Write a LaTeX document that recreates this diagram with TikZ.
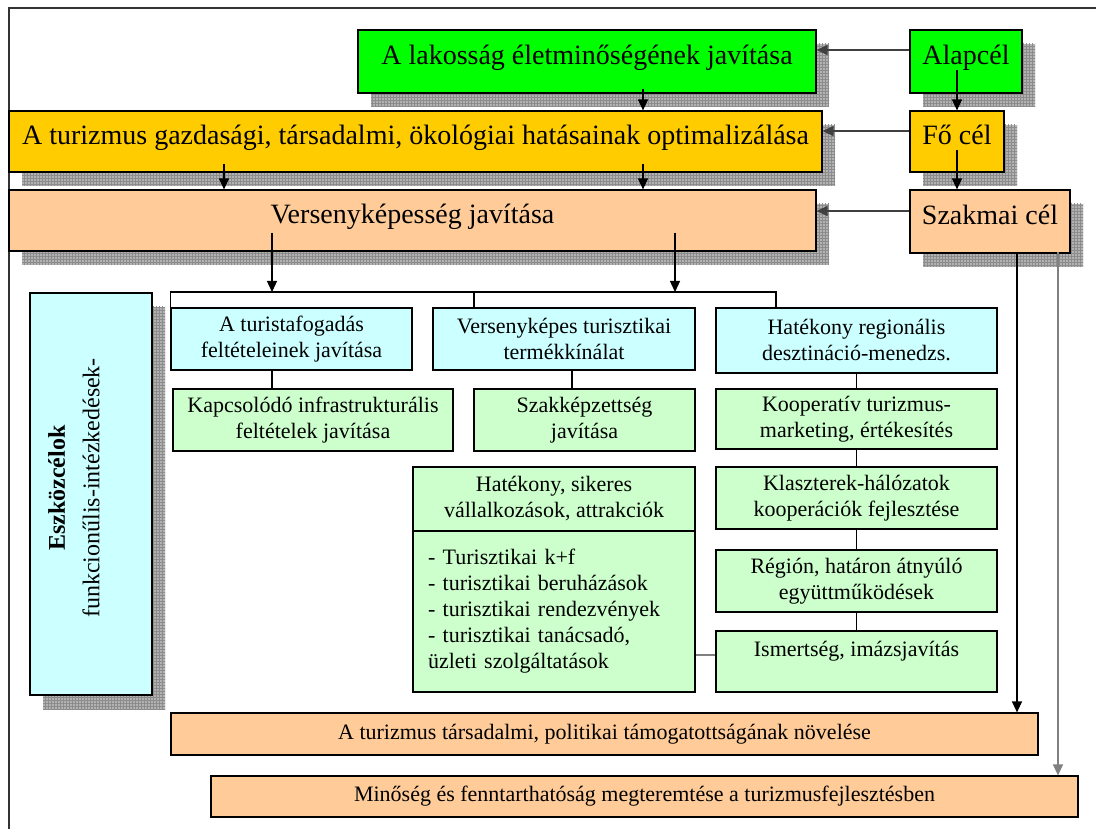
\documentclass[tikz,border=0pt]{standalone}
\usepackage{fontspec}
\setmainfont{Liberation Serif}
\usetikzlibrary{arrows.meta,shadows,patterns}

\definecolor{zold}{HTML}{00FF00}
\definecolor{sarga}{HTML}{FFCC00}
\definecolor{barack}{HTML}{FFCC99}
\definecolor{egkek}{HTML}{CCFFFF}
\definecolor{halvzold}{HTML}{CCFFCC}

\tikzset{
  doboz/.style={draw=black, line width=1.2pt, inner sep=2pt, align=center},
  nagy/.style={doboz, font=\fontsize{28pt}{32pt}\selectfont, text height=21pt, text depth=14pt},
  kicsi/.style={doboz, font=\fontsize{22pt}{26pt}\selectfont},
  arnyek/.style={general shadow={shadow xshift=13pt, shadow yshift=-14pt, fill=black!30},
                 general shadow={shadow xshift=13pt, shadow yshift=-14pt, pattern=grid, pattern color=black!45}},
  nyil/.style={line width=1.3pt, -{Triangle[length=11pt,width=10pt]}},
  vonal/.style={line width=1.2pt},
}

\begin{document}
\begin{tikzpicture}[x=1pt,y=-1pt]
\useasboundingbox (0,0) rectangle (1096,829);

% keret
\draw[line width=1.3pt, black!80] (9,829) -- (9,8) -- (1096,8);

% celok
\node[nagy, arnyek, fill=zold, minimum width=458pt, minimum height=63pt] (lakossag) at (587,61.5) {A lakosság életminőségének javítása};
\node[nagy, arnyek, fill=zold, minimum width=112pt, minimum height=63pt] (alapcel) at (966,61.5) {Alapcél};
\node[nagy, arnyek, fill=sarga, minimum width=813pt, minimum height=61pt] (turizmus) at (415.5,141.5) {A turizmus gazdasági, társadalmi, ökológiai hatásainak optimalizálása};
\node[nagy, arnyek, fill=sarga, minimum width=94pt, minimum height=61pt] (focel) at (957,141.5) {Fő cél};
\node[nagy, arnyek, fill=barack, minimum width=807pt, minimum height=61pt] (verseny) at (412.5,220.5) {Versenyképesség javítása};
\node[nagy, arnyek, fill=barack, minimum width=160pt, minimum height=63pt] (szakmai) at (990,221.5) {Szakmai cél};

% eszkozcelok
\node[doboz, arnyek, fill=egkek, minimum width=122pt, minimum height=402pt] (eszkoz) at (91,494) {};
\node[rotate=90, align=center, font=\fontsize{24pt}{34.5pt}\selectfont] (eszkozszoveg) at ([yshift=6pt]eszkoz.center) {\textbf{Eszközcélok}\\funkcionűlis-intézkedések-\\\mbox{}};

\node[kicsi, fill=egkek, minimum width=241pt, minimum height=62pt] (turista) at (291.5,339) {A turistafogadás\\feltételeinek javítása};
\node[kicsi, fill=egkek, minimum width=262pt, minimum height=62pt] (termek) at (564,339) {Versenyképes turisztikai\\termékkínálat};
\node[kicsi, fill=egkek, minimum width=281pt, minimum height=65pt] (hatreg) at (856.5,340.5) {Hatékony regionális\\desztináció-menedzs.};

\node[kicsi, fill=halvzold, minimum width=280pt, minimum height=62pt] (kapcs) at (313,420) {Kapcsolódó infrastrukturális\\feltételek javítása};
\node[kicsi, fill=halvzold, minimum width=221pt, minimum height=62pt] (szakkep) at (584.5,420) {Szakképzettség\\javítása};
\node[kicsi, fill=halvzold, minimum width=281pt, minimum height=60pt] (koop) at (856.5,419) {Kooperatív turizmus-\\marketing, értékesítés};
\node[kicsi, fill=halvzold, minimum width=281pt, minimum height=62pt] (klaszter) at (856.5,498) {Klaszterek-hálózatok\\kooperációk fejlesztése};
\node[kicsi, fill=halvzold, minimum width=281pt, minimum height=62pt] (regio) at (856.5,581) {Régión, határon átnyúló\\együttműködések};
\node[kicsi, fill=halvzold, minimum width=281pt, minimum height=61pt] (ismert) at (856.5,661.5) {Ismertség, imázsjavítás\\\mbox{}};

\node[kicsi, fill=halvzold, minimum width=282pt, minimum height=64pt] (hatsik) at (554,499) {Hatékony, sikeres\\vállalkozások, attrakciók};
\node[kicsi, fill=halvzold, minimum width=282pt, minimum height=161pt, text width=252pt, inner xsep=15pt, align=left] (hlista) at (554,611.5) {- Turisztikai k+f\\- turisztikai beruházások\\- turisztikai rendezvények\\- turisztikai tanácsadó,\\üzleti szolgáltatások};

\node[kicsi, fill=barack, minimum width=867pt, minimum height=42pt] (tamog) at (604.5,734) {A turizmus társadalmi, politikai támogatottságának növelése};
\node[kicsi, fill=barack, minimum width=867pt, minimum height=41pt] (minoseg) at (644.5,796.5) {Minőség és fenntarthatóság megteremtése a turizmusfejlesztésben};

% nyilak
\draw[nyil, black!75] ([yshift=11.5pt]alapcel.west) -- ([yshift=11.5pt]lakossag.east);
\draw[nyil, black!75] ([yshift=10.5pt]focel.west) -- ([yshift=10.5pt]turizmus.east);
\draw[nyil, black!75] ([yshift=10.5pt]szakmai.west) -- ([yshift=10.5pt]szakmai.west -| verseny.east);
\draw[nyil] (focel.north |- 0,70) -- (focel.north);
\draw[nyil] (focel.north |- 0,150) -- (szakmai.north -| focel.north);
\draw[nyil] (lakossag.south -| 643,0) ++(0,-5) -- (turizmus.north -| 643,0);
\draw[nyil] (turizmus.south -| 224,0) ++(0,-9) -- (verseny.north -| 224,0);
\draw[nyil] (turizmus.south -| 643,0) ++(0,-9) -- (verseny.north -| 643,0);

\coordinate (sin) at (474,292);
\draw[nyil] (verseny.south -| 272,0) ++(0,-19) -- (sin -| 272,0);
\draw[nyil] (verseny.south -| 675,0) ++(0,-19) -- (sin -| 675,0);
\draw[vonal] (turista.north west) |- (sin) -| (hatreg.north -| 776,0);
\draw[vonal] (sin) -- (termek.north -| sin);

\draw[vonal] (turista.south -| 272,0) -- (kapcs.north -| 272,0);
\draw[vonal] (termek.south -| 572,0) -- (szakkep.north -| 572,0);
\draw[vonal] (hatreg.south) -- (koop.north);
\draw[vonal] (koop.south) -- (klaszter.north);
\draw[vonal] (klaszter.south) -- (regio.north);
\draw[vonal] (regio.south) -- (ismert.north);
\draw[vonal, black!50] ([yshift=6.5pt]ismert.west) -- ([yshift=6.5pt]ismert.west -| hlista.east);

\draw[nyil] (szakmai.south -| 1017,0) ++(0,-2) -- (tamog.north -| 1017,0);
\draw[nyil, black!50] (szakmai.south -| 1058,0) ++(0,-2) -- (minoseg.north -| 1058,0);
\end{tikzpicture}
\end{document}
